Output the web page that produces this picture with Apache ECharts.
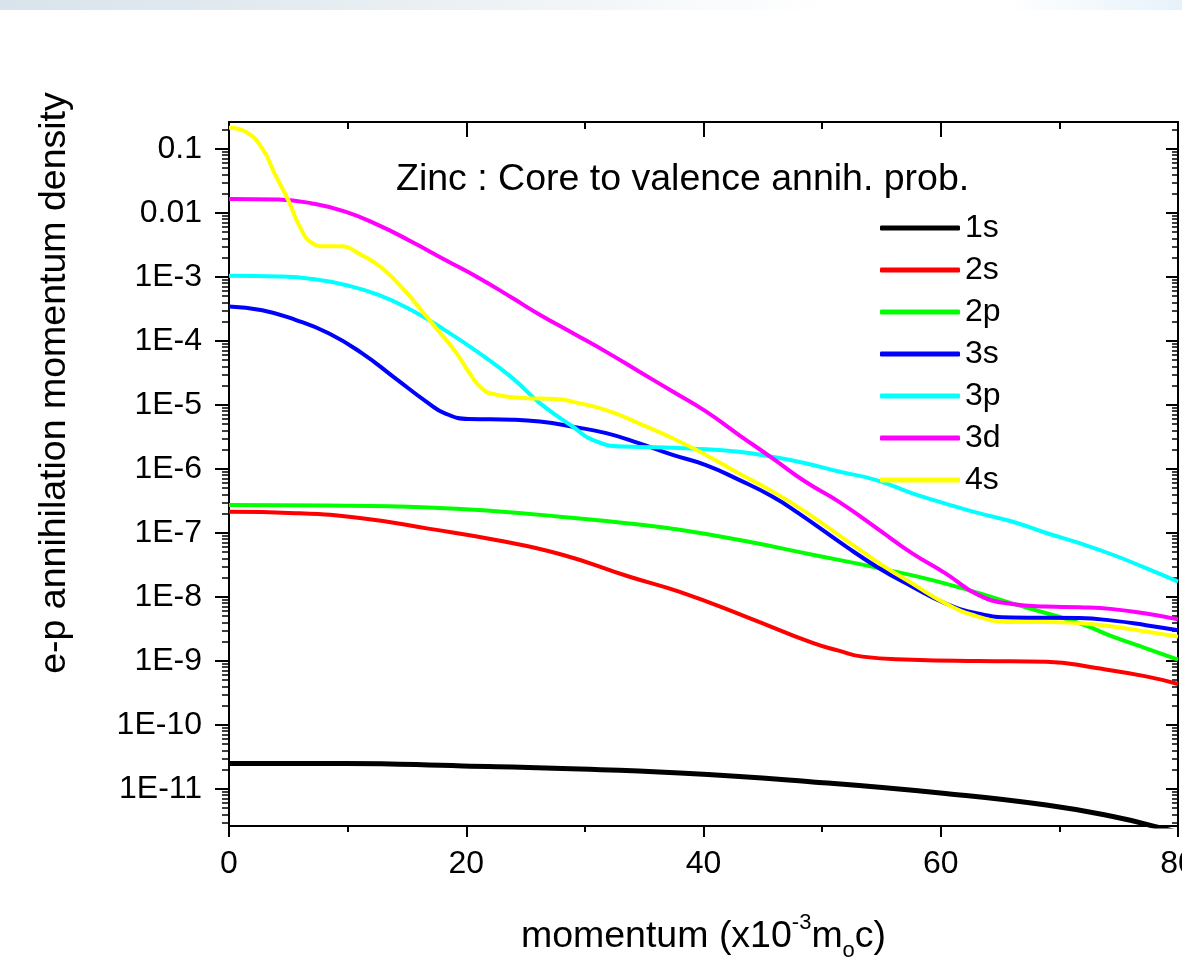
<!DOCTYPE html>
<html>
<head>
<meta charset="utf-8">
<script src="https://cdn.jsdelivr.net/npm/echarts@6/dist/echarts.min.js"></script>
<style>
  html, body { margin: 0; padding: 0; background: #fff; }
  #band { position: absolute; left: 0; top: 0; width: 1182px; height: 10px;
          background: linear-gradient(to right, #d8e3eb 0%, #e9eff3 35%, #ffffff 70%, #ffffff 85%, #e6f2fa 100%); }
  #chart { position: absolute; left: 0; top: 0; width: 1182px; height: 961px; }
</style>
</head>
<body>
<div id="band"></div>
<div id="chart"></div>
<script>
/* curves: [momentum, density] */
var names = ['1s', '2s', '2p', '3s', '3p', '3d', '4s'];
var colors = ['#000000', '#ff0000', '#00ff00', '#0000ff', '#00ffff', '#ff00ff', '#ffff00'];

var d1s = [[0,2.51e-11],[9.8,2.51e-11],[19.7,2.29e-11],[28.1,2.09e-11],[38.0,1.78e-11],[49.2,1.29e-11],
  [60.4,8.51e-12],[68.9,5.62e-12],[74.5,3.72e-12],[78.8,2.40e-12],[80,2.09e-12]];
var d2s = [[0,2.14e-7],[5.6,2.04e-7],[11.2,1.70e-7],[16.8,1.17e-7],[22.5,7.76e-8],[28.1,4.57e-8],[33.7,2.09e-8],
  [38.0,1.20e-8],[43.6,4.90e-9],[49.2,1.91e-9],[51.4,1.45e-9],[53.4,1.17e-9],[57.6,1.05e-9],[63.2,1.00e-9],
  [68.9,9.77e-10],[73.1,7.76e-10],[77.3,5.75e-10],[80,4.37e-10]];
var d2p = [[0,2.74e-7],[8.4,2.69e-7],[16.8,2.51e-7],[22.5,2.19e-7],[28.1,1.78e-7],[33.7,1.41e-7],[38.0,1.12e-7],
  [43.6,7.41e-8],[49.2,4.57e-8],[54.8,2.82e-8],[60.4,1.62e-8],[66.0,7.94e-9],[71.7,3.89e-9],[74.5,2.40e-9],
  [77.3,1.58e-9],[80,1.05e-9]];
var d3s = [[0,3.47e-4],[2.8,3.02e-4],[5.6,2.14e-4],[8.4,1.32e-4],[11.2,6.46e-5],[14.0,2.63e-5],[16.8,1.07e-5],
  [18.2,7.41e-6],[20.2,6.03e-6],[23.9,5.89e-6],[26.2,5.50e-6],[29.0,4.57e-6],[31.8,3.63e-6],[34.6,2.51e-6],
  [37.4,1.66e-6],[40.2,1.15e-6],[43.0,6.76e-7],[45.8,3.72e-7],[48.0,2.04e-7],[52.0,6.17e-8],[54.8,2.82e-8],
  [57.6,1.45e-8],[60.4,7.94e-9],[63.2,5.50e-9],[66.0,4.79e-9],[71.7,4.68e-9],[74.5,4.27e-9],[77.3,3.63e-9],
  [80,3.02e-9]];
var d3p = [[0,1.05e-3],[4.2,1.02e-3],[7.0,9.33e-4],[9.8,7.50e-4],[12.6,5.25e-4],[15.4,3.02e-4],[18.2,1.48e-4],
  [21.1,6.46e-5],[23.9,2.63e-5],[26.2,1.07e-5],[29.0,4.57e-6],[30.7,2.82e-6],[33.2,2.24e-6],[36.0,2.19e-6],
  [38.9,2.09e-6],[43.0,1.86e-6],[45.8,1.55e-6],[48.6,1.23e-6],[51.4,9.12e-7],[54.5,6.76e-7],[57.6,4.17e-7],
  [60.4,2.88e-7],[63.2,2.04e-7],[66.0,1.51e-7],[68.9,1.00e-7],[71.7,6.92e-8],[74.5,4.57e-8],[77.3,2.82e-8],
  [80,1.74e-8]];
var d3d = [[0,1.66e-2],[4.2,1.62e-2],[7.0,1.41e-2],[9.8,1.05e-2],[12.6,6.46e-3],[15.4,3.55e-3],[18.2,1.86e-3],
  [21.1,9.55e-4],[23.9,4.68e-4],[26.2,2.57e-4],[29.0,1.32e-4],[31.8,6.76e-5],[34.6,3.31e-5],[37.4,1.62e-5],
  [40.2,7.94e-6],[43.0,3.39e-6],[45.8,1.48e-6],[48.6,6.31e-7],[51.4,3.09e-7],[54.8,1.12e-7],[57.6,4.79e-8],
  [60.4,2.34e-8],[63.2,1.07e-8],[66.0,7.76e-9],[68.9,7.08e-9],[71.7,6.92e-9],[74.5,6.46e-9],[77.3,5.50e-9],
  [80,4.47e-9]];
var d4s = [[0,0.215],[1.4,0.186],[2.8,0.102],[3.9,3.93e-2],[5.05,1.51e-2],[5.9,6.46e-3],[7.0,3.39e-3],
  [8.1,3.02e-3],[9.3,3.02e-3],[11.2,2.19e-3],[12.9,1.38e-3],[14.9,5.89e-4],[16.3,2.88e-4],[17.7,1.41e-4],
  [19.1,6.76e-5],[20.2,3.31e-5],[21.3,1.82e-5],[22.5,1.45e-5],[24.7,1.29e-5],[27.8,1.23e-5],[29.0,1.12e-5],
  [31.8,8.32e-6],[34.6,5.13e-6],[37.4,3.02e-6],[40.2,1.66e-6],[43.0,8.51e-7],[45.8,4.47e-7],[48.6,2.14e-7],
  [52.0,7.76e-8],[54.8,3.39e-8],[57.6,1.62e-8],[60.4,7.94e-9],[63.2,4.90e-9],[66.0,4.07e-9],[68.9,4.07e-9],
  [71.7,3.89e-9],[74.5,3.47e-9],[77.3,2.88e-9],[80,2.40e-9]];
var curves = [d1s, d2s, d2p, d3s, d3p, d3d, d4s];

/* axis ticks */
var yMin = 2.64e-12, yMax = 0.264;
var decades = [1e-11, 1e-10, 1e-9, 1e-8, 1e-7, 1e-6, 1e-5, 1e-4, 1e-3, 0.01, 0.1];
var minors = [];
for (var e = -12; e <= -1; e++) {
    for (var k = 2; k <= 9; k++) minors.push(k * Math.pow(10, e));
}

var font = 'Liberation Sans, Arial, sans-serif';

function yLabel(v) {
    var p = Math.round(Math.log(v) / Math.LN10);
    if (p === -1) return '0.1';
    if (p === -2) return '0.01';
    return '1E' + p;
}

function logAxis(pos, ticks, len, inside, showLine, showLabel, w) {
    return {
        type: 'log', position: pos, min: yMin, max: yMax,
        axisLine: { show: showLine, lineStyle: { color: '#000', width: 2 } },
        axisTick: { show: true, inside: inside, length: len, customValues: ticks,
                    lineStyle: { color: '#000', width: w } },
        axisLabel: showLabel ? {
            customValues: decades, formatter: yLabel, fontSize: 32, color: '#000',
            fontFamily: font, margin: 27
        } : { show: false },
        splitLine: { show: false }
    };
}

var series = names.map(function (n, i) {
    return {
        name: n, type: 'line', data: curves[i], showSymbol: false, symbol: 'none',
        smooth: 0.5,
        lineStyle: { color: colors[i], width: i === 0 ? 5 : 4 },
        itemStyle: { color: colors[i] }
    };
});

var option = {
    animation: false,
    color: colors,
    textStyle: { fontFamily: font },
    title: {
        text: 'Zinc : Core to valence annih. prob.', left: 391, top: 156,
        textStyle: { fontSize: 37.5, fontWeight: 'normal', color: '#000', fontFamily: font }
    },
    legend: {
        orient: 'vertical', left: 880, top: 212, padding: 0,
        itemWidth: 80, itemHeight: 5, itemGap: 10,
        icon: 'roundRect', data: names,
        textStyle: { fontSize: 32, lineHeight: 32, color: '#000', fontFamily: font }
    },
    grid: { left: 229, right: 4, top: 122, bottom: 135, outerBoundsMode: 'none' },
    xAxis: [{
        type: 'value', position: 'bottom', min: 0, max: 80, interval: 20,
        axisLine: { lineStyle: { color: '#000', width: 2 } },
        axisTick: { length: 11, lineStyle: { width: 2 } },
        minorTick: { show: true, splitNumber: 2, length: 6, lineStyle: { color: '#000', width: 2 } },
        axisLabel: { fontSize: 32, color: '#000', margin: 22, fontFamily: font },
        splitLine: { show: false },
        name: '{a|momentum (x10}{sup|-3}{a|m}{sub|o}{a|c)}',
        nameLocation: 'middle', nameGap: 86,
        nameTextStyle: {
            rich: {
                a: { fontSize: 37.5, lineHeight: 50, color: '#000', fontFamily: font, verticalAlign: 'middle' },
                sup: { fontSize: 22, lineHeight: 22, color: '#000', fontFamily: font, verticalAlign: 'top' },
                sub: { fontSize: 22, lineHeight: 22, color: '#000', fontFamily: font, verticalAlign: 'bottom' }
            }
        }
    }, {
        type: 'value', position: 'top', min: 0, max: 80, interval: 20,
        axisLine: { lineStyle: { color: '#000', width: 2 } },
        axisTick: { inside: true, length: 15, lineStyle: { width: 2 } },
        minorTick: { show: true, splitNumber: 2, length: 7, lineStyle: { color: '#000', width: 2 } },
        axisLabel: { show: false },
        splitLine: { show: false }
    }],
    yAxis: [
        logAxis('left', decades, 14, false, true, true, 2),
        logAxis('left', minors, 7, false, false, false, 1.5),
        logAxis('right', decades, 12, true, true, false, 2),
        logAxis('right', minors, 6, true, false, false, 1.5)
    ],
    series: series,
    graphic: [{
        type: 'text', x: 55, y: 383, rotation: Math.PI / 2,
        style: {
            text: 'e-p annihilation momentum density', fontSize: 37.5, fontFamily: font,
            fill: '#000', align: 'center', verticalAlign: 'middle'
        }
    }]
};

var myChart = echarts.init(document.getElementById('chart'));
myChart.setOption(option);
</script>
</body>
</html>
